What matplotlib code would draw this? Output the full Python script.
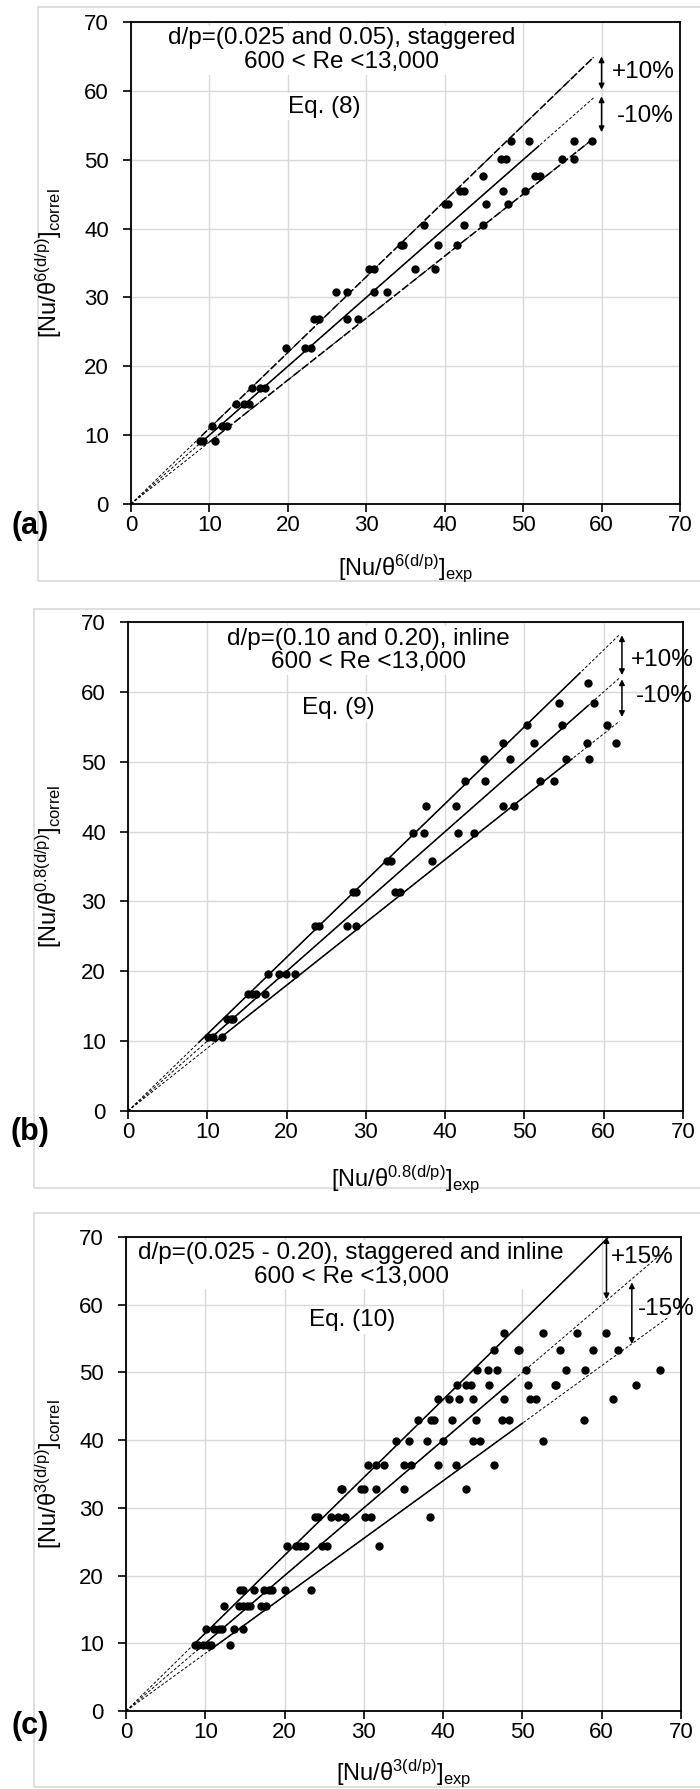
import matplotlib
matplotlib.use('Agg')
import matplotlib.pyplot as plt
from matplotlib.patches import Rectangle

plt.rcParams['font.family'] = ['Liberation Sans', 'DejaVu Sans']
plt.rcParams['mathtext.fontset'] = 'custom'
plt.rcParams['mathtext.rm'] = 'Liberation Sans'
plt.rcParams['mathtext.it'] = 'Liberation Sans:italic'
plt.rcParams['mathtext.bf'] = 'Liberation Sans:bold'

# ---- data: rows of equal correlated value, with the experimental values on that row ----
a_correl = [9.1, 11.3, 14.5, 16.8, 22.7, 26.9, 30.8, 34.2, 37.6, 40.5, 43.5, 45.5, 47.7, 50.1, 52.7]
a_exp = [[8.8, 9.2, 10.7], [10.3, 11.6, 12.2], [13.4, 14.4, 15.0], [15.4, 16.5, 17.1],
         [19.7, 22.2, 22.9], [23.3, 24.0, 27.6, 28.9], [26.2, 27.5, 31.0, 32.6],
         [30.4, 31.0, 36.2, 38.8], [34.4, 34.7, 39.2, 41.6], [37.4, 42.5, 44.9],
         [40.0, 40.4, 45.3, 48.1], [41.9, 42.5, 47.4, 50.3], [44.9, 51.5, 52.1],
         [47.2, 47.8, 54.9, 56.5], [48.5, 50.7, 56.5, 58.8]]

b_correl = [10.6, 13.1, 16.7, 19.6, 26.5, 31.3, 35.8, 39.8, 43.6, 47.2, 50.4, 52.7, 55.3, 58.4, 61.3]
b_exp = [[10.1, 10.7, 11.8], [12.5, 13.0, 13.3], [15.1, 15.6, 16.2, 17.3],
         [17.6, 19.1, 19.9, 21.0], [23.6, 24.1, 27.6, 28.7], [28.4, 28.7, 33.7, 34.3],
         [32.7, 33.2, 38.4], [35.9, 37.3, 41.6, 43.7], [37.6, 41.4, 47.3, 48.7],
         [42.5, 45.0, 52.0, 53.7], [44.9, 48.2, 55.2, 58.1], [47.3, 51.2, 57.9, 61.6],
         [50.3, 54.8, 60.4], [54.4, 58.8], [58.0]]

c_correl = [9.8, 12.1, 15.5, 17.9, 24.3, 28.6, 32.8, 36.4, 39.8, 43.0, 46.1, 48.2, 50.4, 53.3, 55.8]
c_exp = [[8.7, 9.1, 9.7, 10.4, 10.7, 13.1], [10.1, 11.1, 11.7, 12.1, 13.6, 14.7],
         [12.3, 14.2, 14.7, 15.2, 15.7, 17.0, 17.6],
         [14.4, 14.8, 16.2, 17.4, 18.0, 18.4, 20.1, 23.3],
         [20.3, 21.5, 21.9, 22.6, 24.7, 25.4, 31.9],
         [23.8, 24.2, 25.8, 26.7, 27.6, 30.2, 30.9, 38.4],
         [27.1, 27.2, 29.6, 30.0, 31.5, 35.1, 42.9],
         [30.5, 31.5, 32.5, 35.1, 35.9, 39.4, 41.6, 46.4],
         [34.1, 35.7, 38.0, 40.0, 43.8, 44.6, 52.6],
         [36.8, 38.5, 38.8, 41.1, 44.1, 47.4, 48.3, 57.8],
         [39.3, 40.7, 42.0, 43.8, 47.7, 50.9, 51.7, 61.4],
         [41.8, 42.9, 43.5, 45.8, 50.7, 54.1, 54.2, 64.3],
         [44.3, 45.6, 46.8, 50.4, 55.5, 57.9, 67.3],
         [46.4, 49.4, 49.6, 54.7, 58.9, 62.1],
         [47.7, 52.6, 56.9, 60.6]]

ticks = [0, 10, 20, 30, 40, 50, 60, 70]

W, H = 700, 1789
fig = plt.figure(figsize=(W / 100, H / 100), dpi=100)

panels = [
    dict(tag='(a)', exp=a_exp, correl=a_correl, pct='10%', power='6',
         title='d/p=(0.025 and 0.05), staggered', eq='Eq. (8)',
         box=(131, 22, 680, 504), frame=(38, 7, 581), xlab_y=568, tag_y=526,
         title_x=26.8, eq_x=24.7,
         lines=[(1.1, 9, 59, 59, (0, (5, 2))), (1.0, 9, 52, 59, '-'), (0.9, 10, 59, 59, (0, (5, 2)))],
         arrows=[(60, 65.0, 60.2), (60, 59.2, 54.0)], plus=(61.3, 62.8), minus=(62.0, 56.3)),
    dict(tag='(b)', exp=b_exp, correl=b_correl, pct='10%', power='0.8',
         title='d/p=(0.10 and 0.20), inline', eq='Eq. (9)',
         box=(128, 622, 683, 1111), frame=(34, 609, 1188), xlab_y=1179, tag_y=1132,
         title_x=30.3, eq_x=26.5,
         lines=[(1.1, 9, 57, 62, '-'), (1.0, 10, 58, 62, '-'), (0.9, 11, 56, 62, '-')],
         arrows=[(62.3, 68.1, 62.4), (62.3, 61.8, 56.4)], plus=(63.4, 64.6), minus=(64.0, 59.4)),
    dict(tag='(c)', exp=c_exp, correl=c_correl, pct='15%', power='3',
         title='d/p=(0.025 - 0.20), staggered and inline', eq='Eq. (10)',
         box=(126, 1237, 681, 1711), frame=(34, 1213, 1787), xlab_y=1773, tag_y=1726,
         title_x=28.4, eq_x=28.5,
         lines=[(1.15, 8.5, 60.9, 60.9, '-'), (1.0, 9, 49, 68.5, '-'), (0.85, 10.5, 50, 68.5, '-')],
         arrows=[(60.6, 70.0, 60.8), (63.8, 63.3, 54.2)], plus=(61.2, 67.1), minus=(64.6, 59.3)),
]

for p in panels:
    l, t, r, b = p['box']
    ax = fig.add_axes([l / W, 1 - b / H, (r - l) / W, (b - t) / H])
    ax.set_xlim(0, 70)
    ax.set_ylim(0, 70)
    ax.set_xticks(ticks)
    ax.set_yticks(ticks)
    ax.grid(True, color='#d9d9d9', lw=1.0)
    ax.set_axisbelow(True)
    for s in ax.spines.values():
        s.set_linewidth(1.3)
    ax.tick_params(direction='out', length=6, width=1.2, labelsize=16)
    ax.tick_params(axis='y', pad=10)
    ax.tick_params(axis='x', pad=2)

    # text boxes hide the grid but sit under the lines and points
    ax.text(p['title_x'], 65.9, p['title'] + '\n600 < Re <13,000', fontsize=17.5, ha='center',
            va='center', linespacing=1.1, zorder=1.5,
            bbox=dict(facecolor='white', edgecolor='none', pad=1))
    ax.text(p['eq_x'], 57.7, p['eq'], fontsize=17.5, ha='center', va='center', zorder=1.5,
            bbox=dict(facecolor='white', edgecolor='none', pad=2))

    # agreement lines: thin dashed over the whole extent, main style over the data range
    for k, x0, x1, xend, ls in p['lines']:
        ax.plot([0, xend], [0, k * xend], color='black', lw=0.7, ls=(0, (3, 2)))
        ax.plot([x0, x1], [k * x0, k * x1], color='black', lw=1.1, ls=ls)

    for row_y, row_x in zip(p['correl'], p['exp']):
        ax.plot(row_x, [row_y] * len(row_x), 'o', color='black', ms=5, zorder=3)

    for xa, y0, y1 in p['arrows']:
        ax.annotate('', xy=(xa, y1), xytext=(xa, y0), annotation_clip=False,
                    arrowprops=dict(arrowstyle='<|-|>', lw=1.1, color='black',
                                    shrinkA=0, shrinkB=0, mutation_scale=8))
    ax.text(*p['plus'], '+' + p['pct'], fontsize=17.5, ha='left', va='center', clip_on=False)
    ax.text(*p['minus'], '-' + p['pct'], fontsize=17.5, ha='left', va='center', clip_on=False)

    sup = r'$^{\mathrm{' + p['power'] + '(d/p)}}$'
    fig.text((l + r) / 2 / W, 1 - p['xlab_y'] / H, '[Nu/θ' + sup + r']$_{\mathrm{exp}}$',
             fontsize=17, ha='center', va='center')
    fig.text(49 / W, 1 - (t + b) / 2 / H, '[Nu/θ' + sup + r']$_{\mathrm{correl}}$',
             fontsize=17, ha='center', va='center', rotation=90)
    fig.text(30 / W, 1 - p['tag_y'] / H, p['tag'], fontsize=22, fontweight='bold',
             ha='center', va='center')

    fl, ft, fb = p['frame']
    fig.add_artist(Rectangle((fl / W, 1 - fb / H), (W + 5 - fl) / W, (fb - ft) / H,
                             transform=fig.transFigure, fill=False,
                             edgecolor='#d9d9d9', lw=1.2))

fig.savefig('out.png', dpi=100)
